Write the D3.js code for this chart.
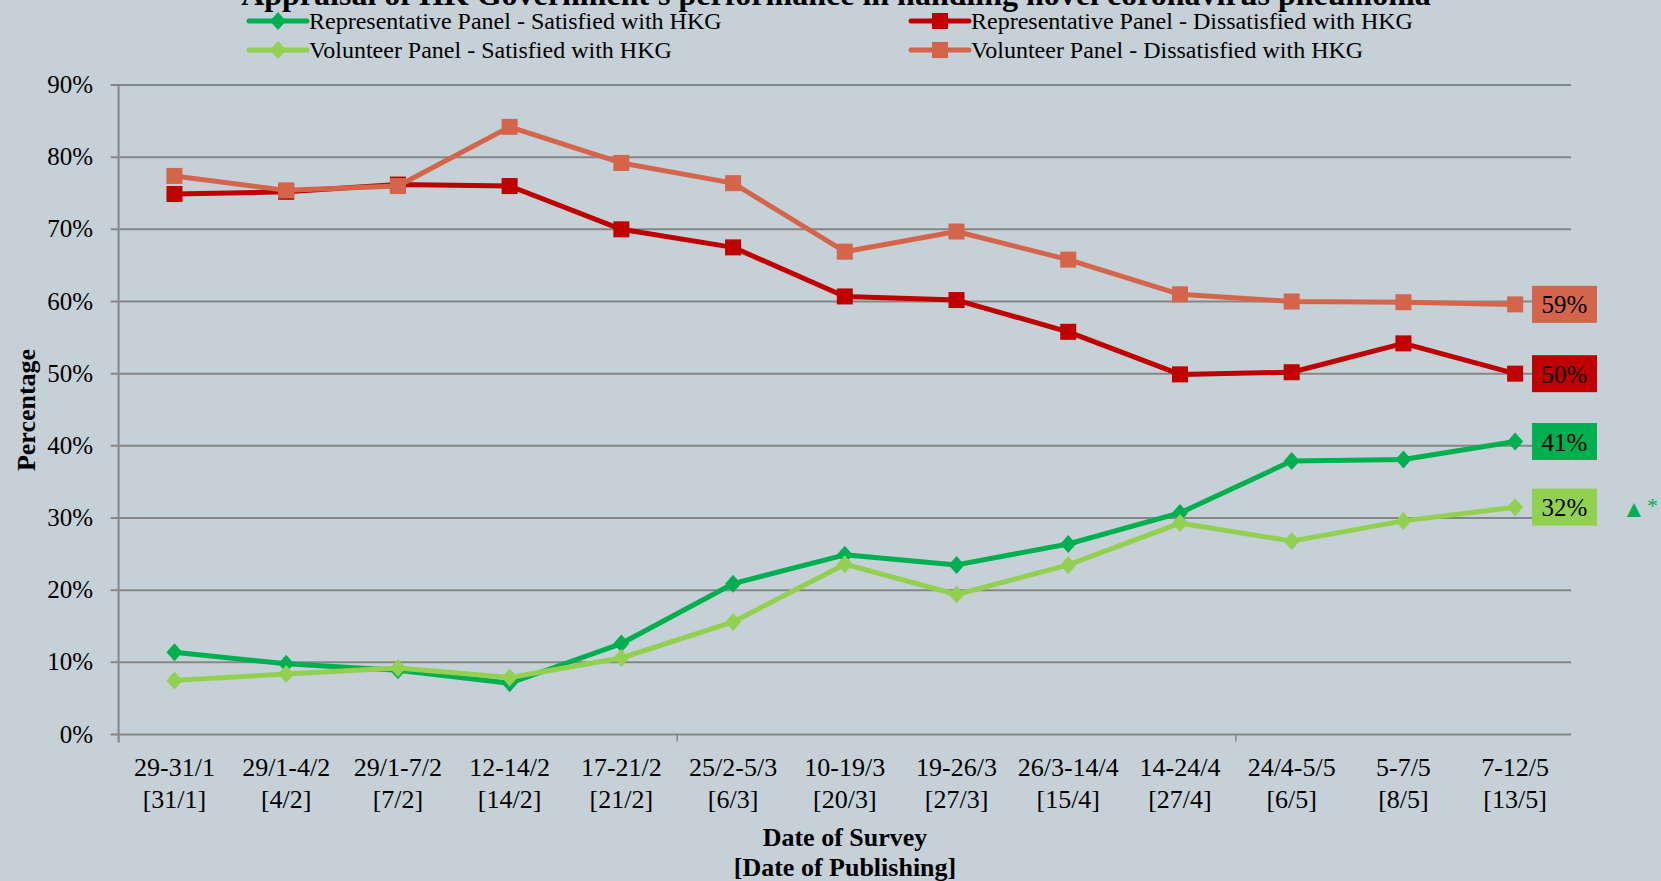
<!doctype html>
<html lang="en">
<head>
<meta charset="utf-8">
<style>
body{margin:0;background:#c5d0d7;}
text{font-family:"Liberation Serif","Times New Roman",serif;}
</style>
</head>
<body>
<div id="grafico"></div>
<script src="https://d3js.org/d3.v7.min.js"></script>
<script>

var fechas = ["29-31/1","29/1-4/2","29/1-7/2","12-14/2","17-21/2","25/2-5/3","10-19/3","19-26/3","26/3-14/4","14-24/4","24/4-5/5","5-7/5","7-12/5"];
var publicacion = ["[31/1]","[4/2]","[7/2]","[14/2]","[21/2]","[6/3]","[20/3]","[27/3]","[15/4]","[27/4]","[6/5]","[8/5]","[13/5]"];

var repSatisfecho = [11.4,9.8,8.9,7.1,12.6,20.9,24.9,23.5,26.4,30.7,37.9,38.1,40.6];
var volSatisfecho = [7.5,8.4,9.2,7.9,10.6,15.6,23.6,19.4,23.5,29.3,26.8,29.6,31.5];
var repInsatisfecho = [74.9,75.2,76.2,76.0,70.0,67.5,60.7,60.2,55.8,49.9,50.2,54.2,50.0];
var volInsatisfecho = [77.4,75.4,76.0,84.2,79.2,76.4,66.9,69.7,65.8,61.0,60.0,59.9,59.6];

var etiquetas = ["41%","32%","50%","59%"];
var ticksY = [0,10,20,30,40,50,60,70,80,90];

var series = [
	{nombre:"Representative Panel - Satisfied with HKG",valores:repSatisfecho,color:"#00b050",forma:"diamante",etiqueta:etiquetas[0]},
	{nombre:"Volunteer Panel - Satisfied with HKG",valores:volSatisfecho,color:"#92d050",forma:"diamante",etiqueta:etiquetas[1]},
	{nombre:"Representative Panel - Dissatisfied with HKG",valores:repInsatisfecho,color:"#c00000",forma:"cuadrado",etiqueta:etiquetas[2]},
	{nombre:"Volunteer Panel - Dissatisfied with HKG",valores:volInsatisfecho,color:"#d4654b",forma:"cuadrado",etiqueta:etiquetas[3]}
];

var w = 1661, h = 881;
var izq = 118.6, der = 1571, arriba = 85, abajo = 734.5;

var svg = d3.select("#grafico").append("svg").attr("width",w).attr("height",h).style("display","block").style("background","#c5d0d7");

var x = d3.scaleBand().domain(fechas).range([izq,der]);
var y = d3.scaleLinear().domain([0,90]).range([abajo,arriba]);

// lineas horizontales
svg.append("g").selectAll("line").data(ticksY).enter().append("line")
	.attr("x1",izq-8).attr("x2",der).attr("y1",function(d){return y(d)}).attr("y2",function(d){return y(d)})
	.attr("stroke","#868686").attr("stroke-width",2);

// eje y
svg.append("line").attr("x1",izq).attr("x2",izq).attr("y1",arriba).attr("y2",abajo+8).attr("stroke","#868686").attr("stroke-width",2);

svg.append("g").selectAll("text").data(ticksY).enter().append("text")
	.text(function(d){return d+"%"}).attr("x",93).attr("y",function(d){return y(d)+8})
	.attr("text-anchor","end").style("font-size","25px").attr("fill","#000");

// marcas del eje x cada 5 categorias
svg.append("g").selectAll("line").data([0,5,10]).enter().append("line")
	.attr("x1",function(d){return izq + d*x.step()}).attr("x2",function(d){return izq + d*x.step()})
	.attr("y1",abajo).attr("y2",abajo+7).attr("stroke","#868686").attr("stroke-width",1.5);

var etiquetaX = svg.append("g").selectAll("g").data(fechas).enter().append("g")
	.attr("transform",function(d){return "translate(" + (x(d)+x.bandwidth()/2) + ",0)"});
etiquetaX.append("text").text(function(d){return d}).attr("y",776).attr("text-anchor","middle").style("font-size","26px");
etiquetaX.append("text").text(function(d,i){return publicacion[i]}).attr("y",808).attr("text-anchor","middle").style("font-size","26px");

// titulos
svg.append("text").text("Appraisal of HK Government's performance in handling novel coronavirus pneumonia")
	.attr("x",836).attr("y",5).attr("text-anchor","middle").style("font-size","32px").style("font-weight","bold");
svg.append("text").text("Date of Survey").attr("x",845).attr("y",846).attr("text-anchor","middle").style("font-size","26px").style("font-weight","bold");
svg.append("text").text("[Date of Publishing]").attr("x",845).attr("y",876).attr("text-anchor","middle").style("font-size","26px").style("font-weight","bold");
svg.append("text").text("Percentage").attr("transform","translate(35,410) rotate(-90)").attr("text-anchor","middle").style("font-size","26px").style("font-weight","bold");

function marca(g, s, cx, cy){
	if (s.forma == "cuadrado"){
		g.append("rect").attr("x",cx-8).attr("y",cy-8).attr("width",16).attr("height",16).attr("fill",s.color);
	} else {
		g.append("path").attr("d","M"+cx+","+(cy-9)+"L"+(cx+8)+","+cy+"L"+cx+","+(cy+9)+"L"+(cx-8)+","+cy+"Z").attr("fill",s.color);
	}
}

var linea = d3.line().x(function(d,i){return x(fechas[i])+x.bandwidth()/2}).y(function(d){return y(d)});

// se dibujan en orden: verdes primero, luego rojos
series.forEach(function(s){
	var g = svg.append("g");
	g.append("path").attr("d",linea(s.valores)).attr("fill","none").attr("stroke",s.color).attr("stroke-width",5).attr("stroke-linejoin","round");
	s.valores.forEach(function(v,i){ marca(g, s, x(fechas[i])+x.bandwidth()/2, y(v)); });
	var ult = s.valores[s.valores.length-1];
	g.append("rect").attr("x",1532).attr("y",y(ult)-18.5).attr("width",65).attr("height",37).attr("fill",s.color);
	g.append("text").text(s.etiqueta).attr("x",1564.5).attr("y",y(ult)+9).attr("text-anchor","middle").style("font-size","25px").attr("fill","#000");
});

// flecha de cambio significativo
var yFlecha = y(volSatisfecho[12]);
svg.append("text").text("▲").attr("x",1622).attr("y",yFlecha+10).attr("fill","#00b050").style("font-size","24px");
svg.append("text").text("*").attr("x",1647).attr("y",yFlecha+6).attr("fill","#00b050").style("font-size","22px");

// leyenda
var leyenda = svg.append("g").selectAll("g").data(series).enter().append("g")
	.attr("transform",function(d,i){return "translate(" + (i>=2 ? 911 : 249) + "," + (i%2==0 ? 21 : 50) + ")"});
leyenda.append("line").attr("x1",0).attr("x2",58).attr("y1",0).attr("y2",0).attr("stroke",function(d){return d.color}).attr("stroke-width",5).attr("stroke-linecap","round");
leyenda.each(function(d){ marca(d3.select(this), {forma:d.forma,color:d.color}, 29, 0); });
leyenda.append("text").text(function(d){return d.nombre}).attr("x",60).attr("y",8).style("font-size","24px");

</script>
</body>
</html>
